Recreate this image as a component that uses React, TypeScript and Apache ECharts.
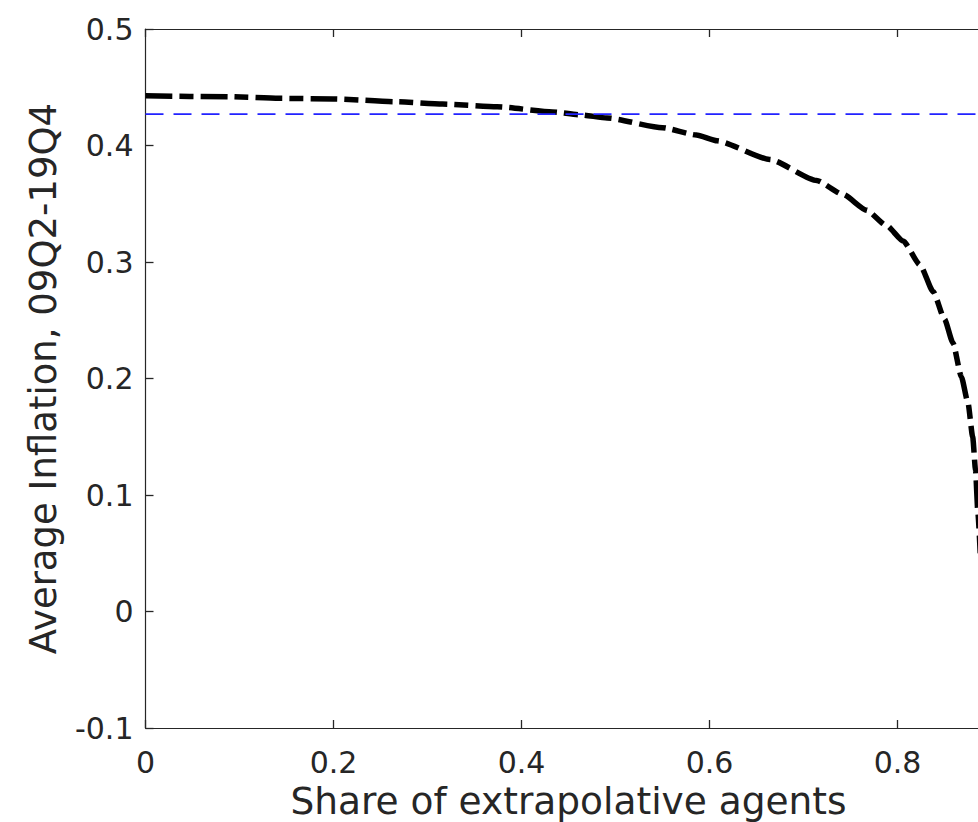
import React, { useEffect, useRef } from "react";
import * as echarts from "echarts";

// Share of extrapolative agents (x) and average inflation 09Q2-19Q4 (y)
const shareX = [
  0, 0.09, 0.142, 0.2, 0.267, 0.316, 0.374, 0.433, 0.462, 0.491, 0.55, 0.586,
  0.608, 0.664, 0.714, 0.742, 0.767, 0.788, 0.806, 0.824, 0.838, 0.85, 0.859,
  0.868, 0.875, 0.88, 0.883, 0.8855, 0.888,
];
const inflationY = [
  0.4427, 0.4418, 0.4405, 0.44, 0.4376, 0.4356, 0.4333, 0.4288, 0.4264,
  0.4236, 0.4153, 0.409, 0.404, 0.388, 0.37, 0.358, 0.3445, 0.3315, 0.318,
  0.2975, 0.2745, 0.251, 0.2305, 0.2013, 0.179, 0.1498, 0.1215, 0.085, 0.05,
];

// Horizontal reference line
const refX = [0, 0.9];
const refY = [0.427, 0.427];

// Axis ranges / ticks
const xMin = 0;
const xMax = 0.9;
const xStep = 0.2;
const yMin = -0.1;
const yMax = 0.5;
const yStep = 0.1;

const xTitle = "Share of extrapolative agents";
const yTitle = "Average Inflation, 09Q2-19Q4";

const TXT = "#262626";
const FONT = "DejaVu Sans";

export default function App() {
  const ref = useRef<HTMLDivElement>(null);

  useEffect(() => {
    if (!ref.current) return;
    const chart = echarts.init(ref.current, undefined, { renderer: "svg" });
    const fmt = (v: number) => String(Math.round(v * 10) / 10);
    const line = { show: true, onZero: false, lineStyle: { color: TXT, width: 1.2 } };
    const tick = { show: true, inside: true, length: 8, lineStyle: { color: TXT, width: 1.3 } };
    chart.setOption({
      animation: false,
      backgroundColor: "#ffffff",
      grid: {
        left: 145.5,
        top: 29,
        width: 846,
        height: 699,
        containLabel: false,
        outerBoundsMode: "none",
      },
      xAxis: [
        {
          type: "value",
          min: xMin,
          max: xMax,
          interval: xStep,
          position: "bottom",
          axisLine: line,
          axisTick: tick,
          splitLine: { show: false },
          axisLabel: {
            color: TXT,
            fontFamily: FONT,
            fontSize: 30,
            margin: 19,
            showMaxLabel: false,
            formatter: fmt,
          },
          name: xTitle,
          nameLocation: "middle",
          nameGap: 54,
          nameTextStyle: { color: TXT, fontFamily: FONT, fontSize: 37.5 },
        },
        {
          type: "value",
          min: xMin,
          max: xMax,
          interval: xStep,
          position: "top",
          axisLine: line,
          axisTick: tick,
          splitLine: { show: false },
          axisLabel: { show: false },
        },
      ],
      yAxis: [
        {
          type: "value",
          min: yMin,
          max: yMax,
          interval: yStep,
          position: "left",
          axisLine: line,
          axisTick: tick,
          splitLine: { show: false },
          axisLabel: {
            color: TXT,
            fontFamily: FONT,
            fontSize: 30,
            margin: 12,
            formatter: fmt,
          },
          name: yTitle,
          nameLocation: "middle",
          nameGap: 84,
          nameTextStyle: { color: TXT, fontFamily: FONT, fontSize: 37 },
        },
        {
          type: "value",
          min: yMin,
          max: yMax,
          interval: yStep,
          position: "right",
          axisLine: line,
          axisTick: tick,
          splitLine: { show: false },
          axisLabel: { show: false },
        },
      ],
      series: [
        {
          type: "line",
          data: shareX.map((x, i) => [x, inflationY[i]]),
          showSymbol: false,
          symbol: "none",
          smooth: 0.2,
          smoothMonotone: "x",
          clip: true,
          lineStyle: { color: "#000000", width: 5.5, type: [27, 7, 14, 7], cap: "butt" },
          z: 2,
        },
        {
          type: "line",
          data: refX.map((x, i) => [x, refY[i]]),
          showSymbol: false,
          symbol: "none",
          lineStyle: { color: "#2222ff", width: 1.8, type: [18, 10] },
          z: 3,
        },
      ],
    });
    return () => chart.dispose();
  }, []);

  return (
    <div
      style={{
        position: "absolute",
        left: 0,
        top: 0,
        width: 978,
        height: 822,
        overflow: "hidden",
        background: "#fff",
      }}
    >
      <div ref={ref} style={{ width: 1010, height: 822 }} />
    </div>
  );
}
